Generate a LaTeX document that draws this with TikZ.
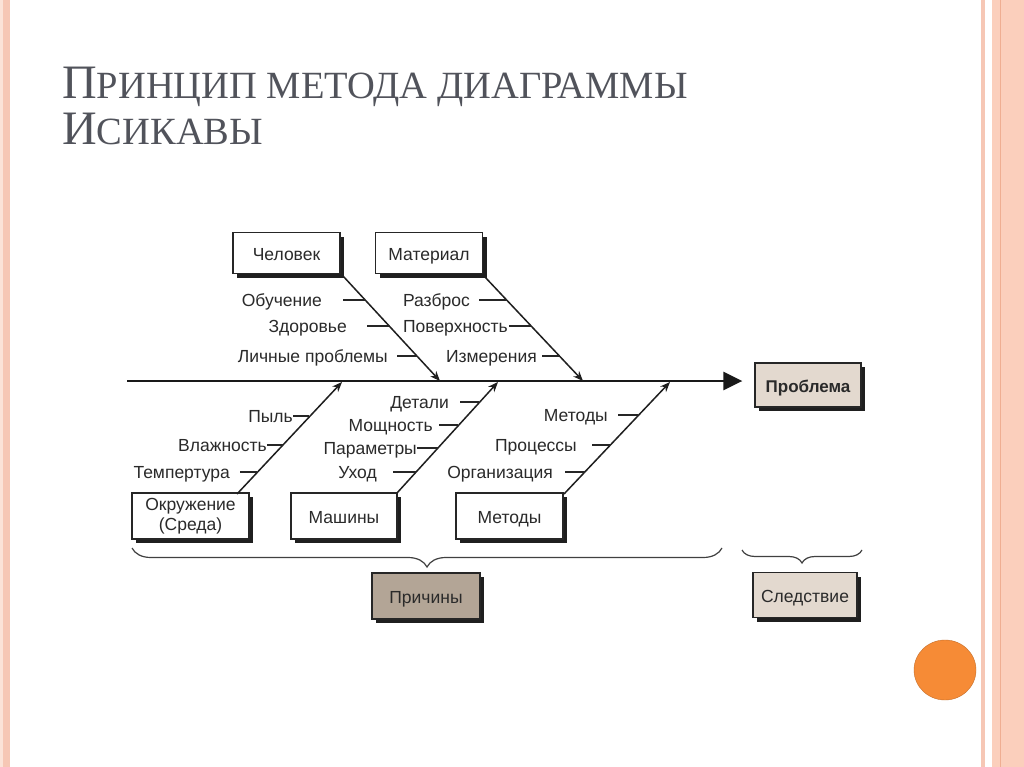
\documentclass[tikz,border=0pt]{standalone}
\usepackage{fontspec}
\setmainfont{Liberation Serif}
\newfontfamily\lsans{Liberation Sans}
\usetikzlibrary{arrows.meta,decorations.pathreplacing,shadows}
\definecolor{titlegrey}{HTML}{51535B}
\definecolor{txt}{HTML}{2A2A2A}
\definecolor{probfill}{HTML}{E3D9CF}
\definecolor{prichfill}{HTML}{B3A596}
\definecolor{stripeA}{HTML}{F6C7B5}
\definecolor{stripeB}{HTML}{FBCFBC}
\definecolor{stripeC}{HTML}{EFAE92}
\definecolor{stripeL}{HTML}{FBE3D8}
\definecolor{dotorange}{HTML}{F68B36}
\tikzset{
  box/.style={draw=black!85, line width=1.3pt, fill=white, minimum width=107pt,
    minimum height=41pt, inner sep=0pt, align=center, text=txt,
    font=\lsans\fontsize{17.5}{20}\selectfont,
    drop shadow={shadow xshift=4pt, shadow yshift=-4pt, fill=black!88, opacity=1}},
  onebox/.style={box, text height=17pt, text depth=2pt},
  lbl/.style={anchor=mid east, inner sep=0pt, text=txt, font=\lsans\fontsize{17.5}{20}\selectfont},
  tick/.style={draw=black!85, line width=1.1pt},
  bone/.style={draw=black!88, line width=1.5pt, -{Stealth[length=10pt,width=8pt]}},
  spine/.style={draw=black!90, line width=2.6pt, -{Triangle[length=19pt,width=18pt]}},
  bracestyle/.style={draw=black!75, line width=1.2pt, decorate},
}
\begin{document}
\begin{tikzpicture}[x=1pt,y=-1pt]
\useasboundingbox (0,0) rectangle (1024,767);
\fill[white] (0,0) rectangle (1024,767);
% side stripes
\fill[stripeL] (0,0) rectangle (3,767);
\fill[stripeA] (3,0) rectangle (10,767);
\fill[stripeA] (981,0) rectangle (985,767);
\fill[stripeB] (992,0) rectangle (1024,767);
\draw[stripeC, line width=1pt] (1000,0) -- (1000,767);
% orange dot
\fill[dotorange, draw=dotorange!80!black, line width=0.4pt] (945,670) ellipse (31 and 30);
% title
\node[anchor=base west, inner sep=0pt, text=titlegrey] (t1) at (62,99)
  {\fontsize{48}{48}\selectfont П\fontsize{38.5}{38.5}\selectfont РИНЦИП МЕТОДА ДИАГРАММЫ};
\node[anchor=base west, inner sep=0pt, text=titlegrey] (t2) at (62,145)
  {\fontsize{48}{48}\selectfont И\fontsize{38.5}{38.5}\selectfont СИКАВЫ};
% boxes
\node[onebox] (chel) at (286.5,253) {Человек};
\node[onebox] (mat) at (429,253) {Материал};
\node[onebox, fill=probfill, minimum width=106pt, minimum height=44pt,
      font=\lsans\bfseries\fontsize{17}{20}\selectfont] (prob) at (808,385) {Проблема};
\node[box, minimum width=117pt, minimum height=46pt] (okr) at (190.5,516) {Окружение\\(Среда)};
\node[onebox, minimum width=106pt, minimum height=46pt] (mash) at (344,516) {Машины};
\node[onebox, minimum width=107pt, minimum height=46pt] (met) at (509.5,516) {Методы};
\node[onebox, fill=prichfill, minimum width=108pt, minimum height=46pt] (prich) at (426,596) {Причины};
\node[onebox, fill=probfill, minimum width=104pt, minimum height=45pt] (sled) at (805,595) {Следствие};
% spine
\coordinate (s0) at (127,381);
\draw[spine] (s0) -- ([xshift=-12pt]prob.west |- s0);
% bone coordinates
\coordinate (b1s) at (343,276); \coordinate (b1e) at (440,381);
\coordinate (b2s) at (484,276); \coordinate (b2e) at (583,381);
\coordinate (b3s) at (237,494); \coordinate (b3e) at (342,382);
\coordinate (b4s) at (397,493); \coordinate (b4e) at (498,382);
\coordinate (b5s) at (564,494); \coordinate (b5e) at (670,382);
\draw[bone] (b1s) -- (b1e);
\draw[bone] (b2s) -- (b2e);
\draw[bone] (b3s) -- (b3e);
\draw[bone] (b4s) -- (b4e);
\draw[bone] (b5s) -- (b5e);
% labels: Человек
\node[lbl] (l11) at (322,304) {Обучение};
\node[lbl] (l12) at (347,330) {Здоровье};
\node[lbl] (l13) at (388,360) {Личные проблемы};
\coordinate (p11) at (365,300); \coordinate (p12) at (389,326); \coordinate (p13) at (417,356);
\draw[tick] ([xshift=21pt]l11.mid east |- p11) -- (p11);
\draw[tick] ([xshift=20pt]l12.mid east |- p12) -- (p12);
\draw[tick] ([xshift=9pt]l13.mid east |- p13) -- (p13);
% Материал
\node[lbl] (l21) at (470,304) {Разброс};
\node[lbl] (l22) at (508,330) {Поверхность};
\node[lbl] (l23) at (537,360) {Измерения};
\coordinate (p21) at (507,300); \coordinate (p22) at (531,326); \coordinate (p23) at (559,356);
\draw[tick] ([xshift=9pt]l21.mid east |- p21) -- (p21);
\draw[tick] ([xshift=1pt]l22.mid east |- p22) -- (p22);
\draw[tick] ([xshift=5pt]l23.mid east |- p23) -- (p23);
% Окружение
\node[lbl] (l31) at (293,420) {Пыль};
\node[lbl] (l32) at (267,449) {Влажность};
\node[lbl] (l33) at (230,476) {Темпертура};
\coordinate (p31) at (309,416); \coordinate (p32) at (283,445); \coordinate (p33) at (257,472);
\draw[tick] (l31.mid east |- p31) -- (p31);
\draw[tick] (l32.mid east |- p32) -- (p32);
\draw[tick] ([xshift=10pt]l33.mid east |- p33) -- (p33);
% Машины
\node[lbl] (l41) at (449,406) {Детали};
\node[lbl] (l42) at (433,429) {Мощность};
\node[lbl] (l43) at (417,452) {Параметры};
\node[lbl] (l44) at (377,476) {Уход};
\coordinate (p41) at (479,402); \coordinate (p42) at (458,425); \coordinate (p43) at (438,448); \coordinate (p44) at (416,472);
\draw[tick] ([xshift=11pt]l41.mid east |- p41) -- (p41);
\draw[tick] ([xshift=6pt]l42.mid east |- p42) -- (p42);
\draw[tick] (l43.mid east |- p43) -- (p43);
\draw[tick] ([xshift=16pt]l44.mid east |- p44) -- (p44);
% Методы
\node[lbl] (l51) at (608,419) {Методы};
\node[lbl] (l52) at (577,449) {Процессы};
\node[lbl] (l53) at (553,476) {Организация};
\coordinate (p51) at (638,415); \coordinate (p52) at (610,445); \coordinate (p53) at (585,472);
\draw[tick] ([xshift=10pt]l51.mid east |- p51) -- (p51);
\draw[tick] ([xshift=15pt]l52.mid east |- p52) -- (p52);
\draw[tick] ([xshift=12pt]l53.mid east |- p53) -- (p53);
% braces
\coordinate (br1a) at (132,548); \coordinate (br1b) at (722,548);
\coordinate (br2a) at (742,550); \coordinate (br2b) at (862,550);
\draw[bracestyle, decoration={brace, mirror, amplitude=19pt}] (br1a) -- (br1b);
\draw[bracestyle, decoration={brace, mirror, amplitude=13pt}] (br2a) -- (br2b);
\end{tikzpicture}
\end{document}
